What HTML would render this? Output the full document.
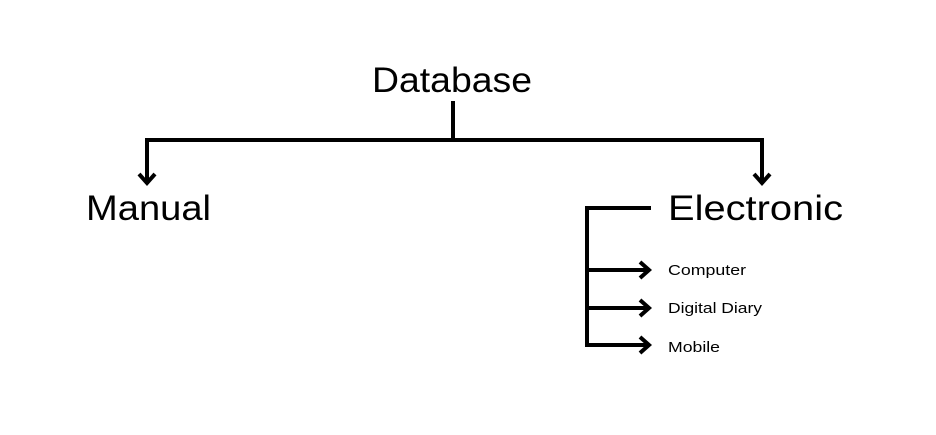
<!DOCTYPE html>
<html><head><meta charset="utf-8"><style>
html,body{margin:0;padding:0;background:#fff;}
svg{display:block;}
text{font-family:"Liberation Sans","DejaVu Sans",sans-serif;fill:#000;}
</style></head><body>
<svg width="936" height="435" viewBox="0 0 936 435" xmlns="http://www.w3.org/2000/svg">
<rect width="936" height="435" fill="#fff"/>
<g stroke="#000" stroke-width="4" fill="none" stroke-linecap="butt">
  <line x1="453" y1="101" x2="453" y2="140"/>
  <path d="M147 184 V140 H762 V184"/>
  <path d="M139 174 L147 183 L155 174" stroke-linejoin="miter"/>
  <path d="M754 174 L762 183 L770 174" stroke-linejoin="miter"/>
  <path d="M651 208 H587 V345 H648"/>
  <line x1="587" y1="270" x2="648" y2="270"/>
  <line x1="587" y1="308" x2="648" y2="308"/>
  <path d="M640 262 L649 270 L640 278"/>
  <path d="M640 300 L649 308 L640 316"/>
  <path d="M640 337 L649 345 L640 353"/>
</g>
<text x="372" y="92" font-size="35" textLength="160" lengthAdjust="spacingAndGlyphs">Database</text>
<text x="86" y="220" font-size="35" textLength="125" lengthAdjust="spacingAndGlyphs">Manual</text>
<text x="668" y="220" font-size="35" textLength="175" lengthAdjust="spacingAndGlyphs">Electronic</text>
<text x="668" y="275" font-size="15" textLength="78" lengthAdjust="spacingAndGlyphs">Computer</text>
<text x="668" y="313" font-size="15" textLength="94" lengthAdjust="spacingAndGlyphs">Digital Diary</text>
<text x="668" y="352" font-size="15" textLength="52" lengthAdjust="spacingAndGlyphs">Mobile</text>
</svg>
</body></html>
